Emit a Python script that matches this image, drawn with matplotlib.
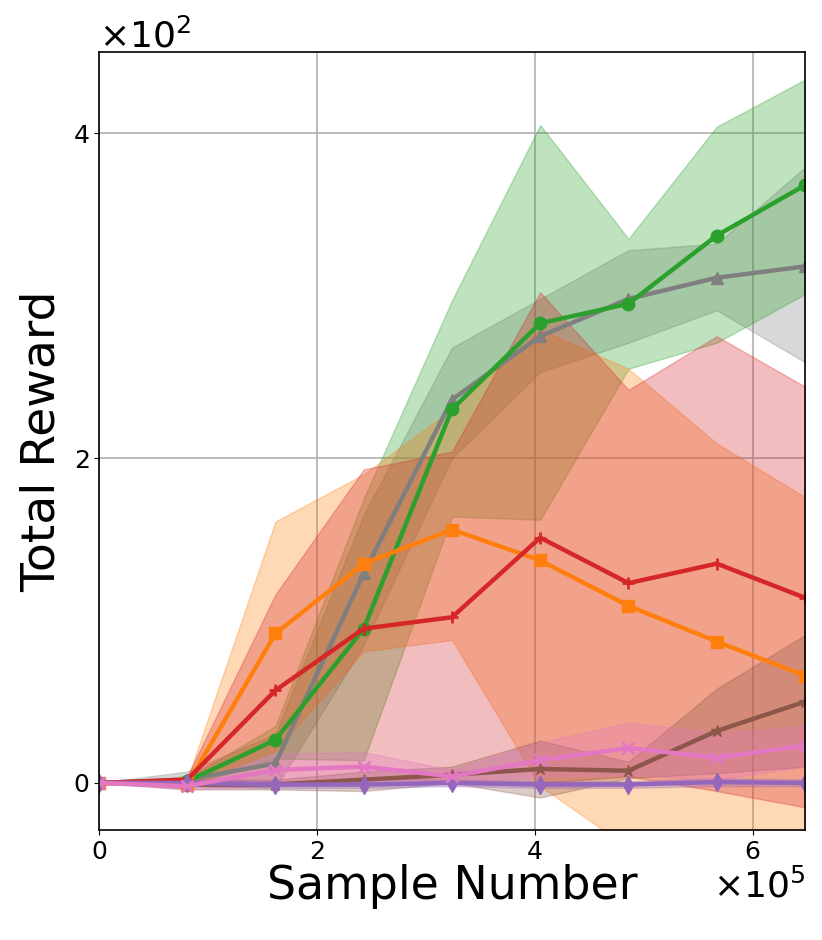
import matplotlib
matplotlib.use("Agg")
import matplotlib.pyplot as plt
import numpy as np

samples = [0, 81000, 162000, 243000, 324000, 405000, 486000, 567000, 648000]

gray_mean = [0, 2, 12, 129, 236, 275, 298, 311, 318]
gray_low = [0, -2, -3, 85, 200, 253, 271, 291, 259]
gray_high = [0, 7, 30, 165, 268, 298, 328, 332, 379]

green_mean = [0, 1, 26.5, 95, 230, 283, 295, 337, 368]
green_low = [0, -2, 15, 14, 164, 162, 255, 271, 301]
green_high = [0, 3, 35, 175, 297, 405, 335, 404, 433]

orange_mean = [0, -1, 92, 135, 156, 137, 109, 87, 66]
orange_low = [0, -3, 20, 81, 88, -2, -40, -50, -60]
orange_high = [0, 2, 161, 190, 230, 279, 255, 209, 176]

red_mean = [0, 2, 57, 95, 102, 151, 123, 135, 114]
red_low = [0, -2, 1, 2, 2, 0, 4, -5, -15]
red_high = [0, 4, 116, 193, 204, 302, 242, 275, 244]

brown_mean = [0, -1, -1, 2, 5, 8.6, 7.5, 32, 50]
brown_low = [0, -4, -4, -5, 0, -9, 3, 6, 10]
brown_high = [0, 2, 2, 7, 10, 26, 13, 58, 91]

purple_mean = [0, 0, -1, -1, 0, -1, -1, 0.5, 0]
purple_low = [0, -2, -3, -3, -2, -3, -3, -2, -2]
purple_high = [0, 2, 1, 1, 2, 1, 1, 3, 2]

pink_mean = [0, -2, 8, 10, 4, 14, 21.5, 15.5, 23]
pink_low = [0, -4, -2, 0, 0, 4, 5, 2, 10]
pink_high = [0, 0, 18, 19, 8, 25, 37, 31, 35]

series = [
    ("tab:gray", "^", gray_mean, gray_low, gray_high),
    ("tab:green", "o", green_mean, green_low, green_high),
    ("tab:orange", "s", orange_mean, orange_low, orange_high),
    ("tab:red", "+", red_mean, red_low, red_high),
    ("tab:brown", "*", brown_mean, brown_low, brown_high),
    ("tab:purple", "d", purple_mean, purple_low, purple_high),
    ("tab:pink", "x", pink_mean, pink_low, pink_high),
]

fig = plt.figure(figsize=(8.22, 9.40), dpi=100)
ax = fig.add_axes([0.1204, 0.117, 0.8589, 0.8277])

for color, marker, m, lo, hi in series:
    ax.fill_between(samples, lo, hi, color=color, alpha=0.3, linewidth=1)
    ax.plot(samples, m, color=color, marker=marker, linewidth=3.2,
            markersize=9, markeredgewidth=2 if marker in "+x" else 1)

ax.set_xlim(0, 648000)
ax.set_ylim(-29, 450)
ax.set_yticks([0, 200, 400])
ax.set_xticks([0, 200000, 400000, 600000])
ax.ticklabel_format(style="sci", scilimits=(0, 0), useMathText=True, axis="both")
ax.grid(True, color="#b0b0b0", linewidth=1.2)
ax.set_axisbelow(True)
ax.tick_params(labelsize=18)
ax.xaxis.get_offset_text().set_fontsize(26)
ax.yaxis.get_offset_text().set_fontsize(26)
ax.set_xlabel("Sample Number", fontsize=33, labelpad=0)
ax.set_ylabel("Total Reward", fontsize=34, labelpad=6)
for s in ax.spines.values():
    s.set_linewidth(1.2)

fig.savefig("out.png", dpi=100)
